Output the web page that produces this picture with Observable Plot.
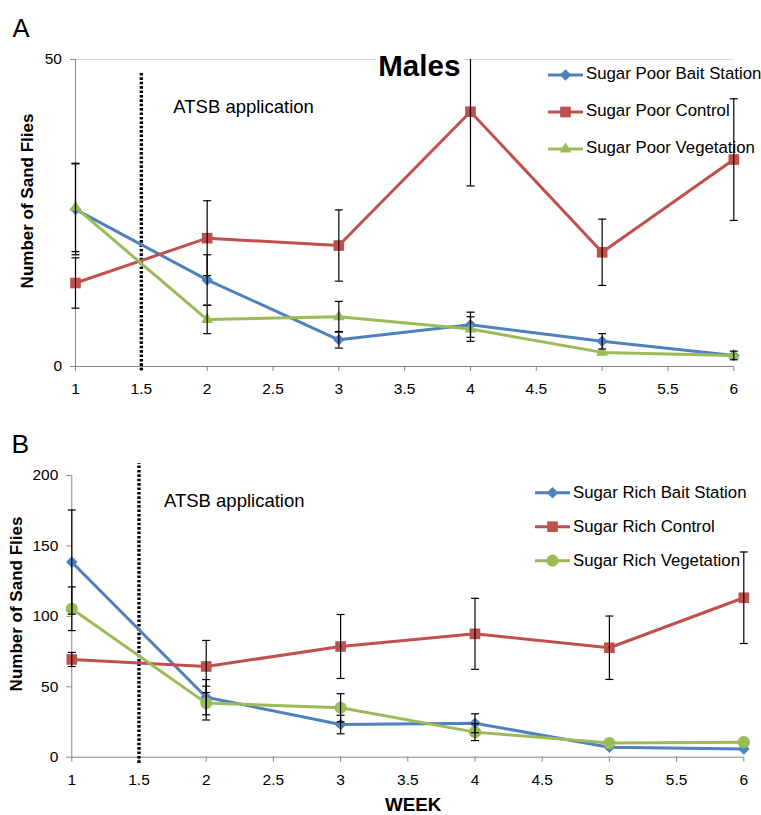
<!DOCTYPE html>
<html><head><meta charset="utf-8">
<script src="https://cdn.jsdelivr.net/npm/d3@7"></script>
<script src="https://cdn.jsdelivr.net/npm/@observablehq/plot@0.6"></script>
<style>
html,body{margin:0;padding:0;background:#fff;overflow:hidden}
#wrap{position:relative;width:761px;height:815px;font-family:"Liberation Sans",Arial,sans-serif}
#pa,#pb{position:absolute;left:0}
#overlay{position:absolute;left:0;top:0;pointer-events:none}
</style></head><body>
<div id="wrap"><div id="pa" style="top:0"></div><div id="pb" style="top:400px"></div>
<svg id="overlay" width="761" height="815" xmlns="http://www.w3.org/2000/svg"></svg></div>
<script>
// ---- data ----
const weeks = [1, 2, 3, 4, 5, 6];
const xTicks = [1, 1.5, 2, 2.5, 3, 3.5, 4, 4.5, 5, 5.5, 6];
const atsbWeek = 1.5;

// Panel A (Males, sugar poor)
const poorNames = ["Sugar Poor Bait Station", "Sugar Poor Control", "Sugar Poor Vegetation"];
const poorBait = [25.6, 14.1, 4.35, 6.8, 4.1, 1.8];
const poorBaitErr = [7.4, 4.1, 1.35, 2.05, 1.25, 0.7];
const poorControl = [13.6, 20.9, 19.7, 41.5, 18.6, 33.7];
const poorControlErr = [4.1, 6.1, 5.8, 12.1, 5.4, 9.9];
const poorVeg = [25.9, 7.65, 8.1, 6.1, 2.3, 1.8];
const poorVegErr = [7.2, 2.3, 2.5, 2.0, 0, 0];
const poorYTicks = [0, 50];
const poorAtsbExtent = [-0.7, 48.0];

// Panel B (sugar rich)
const richNames = ["Sugar Rich Bait Station", "Sugar Rich Control", "Sugar Rich Vegetation"];
const richBait = [138.5, 42.6, 23.2, 24.1, 7.1, 5.9];
const richBaitErr = [37, 12.5, 6.6, 6.7, 0, 0];
const richControl = [69.4, 64.4, 78.6, 87.6, 77.7, 113.2];
const richControlErr = [5, 18.5, 22.7, 25.2, 22.5, 32.5];
const richVeg = [105.4, 38.4, 35.1, 17.8, 10.0, 10.7];
const richVegErr = [15.5, 12, 10, 6, 0, 0];
const richYTicks = [0, 50, 100, 150, 200];
const richAtsbExtent = [-4.4, 208.6];

// ---- style ----
const colors = ["#4F81BD", "#C0504D", "#9BBB59"];
const FONT = "Liberation Sans, Arial, sans-serif";
const capSymbol = {draw(ctx) { ctx.moveTo(-4, 0); ctx.lineTo(4, 0); }};

function panel({values, errs, symbols, radii, yMax, yTicks, height, mL, mR, mT, mB, atsbExtent, grid}) {
  const rows = [];
  values.forEach((vals, k) => weeks.forEach((w, j) => rows.push({k, week: w, v: vals[j], e: errs[k][j]})));
  const errRows = rows.filter(d => d.e > 0);
  const caps = errRows.flatMap(d => [{week: d.week, y: d.v + d.e}, {week: d.week, y: d.v - d.e}])
    .filter(c => c.y <= yMax && c.y >= 0);
  const seriesMarks = values.flatMap((vals, k) => {
    const data = rows.filter(d => d.k === k);
    return [
      Plot.line(data, {x: "week", y: "v", stroke: colors[k], strokeWidth: 3}),
      Plot.dot(data, {x: "week", y: "v", symbol: symbols[k], r: radii[k], fill: colors[k], stroke: "none"})
    ];
  });
  return Plot.plot({
    width: 761, height,
    marginLeft: mL, marginRight: mR, marginTop: mT, marginBottom: mB,
    x: {domain: [1, 6]},
    y: {domain: [0, yMax]},
    style: {fontFamily: FONT, fontSize: "15.5px", background: "white", color: "black"},
    marks: [
      grid ? Plot.ruleY([yMax], {stroke: "#d9d9d9"}) : null,
      Plot.ruleX([1], {stroke: "#868686"}),
      Plot.ruleY([0], {stroke: "#868686"}),
      Plot.axisX({ticks: xTicks, tickSize: 5, tickPadding: 11.5, tickFormat: d => String(d), stroke: "#868686", label: null}),
      Plot.axisY({ticks: yTicks, tickSize: 5, tickPadding: 8.5, tickFormat: d => String(d), stroke: "#868686", label: null}),
      Plot.ruleX([{week: atsbWeek, y1: atsbExtent[0], y2: atsbExtent[1]}],
        {x: "week", y1: "y1", y2: "y2", stroke: "black", strokeWidth: 3.4, strokeDasharray: "2.6,1.8"}),
      ...seriesMarks,
      Plot.ruleX(errRows, {x: "week", y1: d => Math.max(0, d.v - d.e), y2: d => Math.min(yMax, d.v + d.e), stroke: "black", strokeWidth: 1.2}),
      Plot.dot(caps, {x: "week", y: "y", symbol: capSymbol, r: 4, stroke: "black", strokeWidth: 1.2, fill: "none"})
    ]
  });
}

document.getElementById("pa").append(panel({
  values: [poorBait, poorControl, poorVeg],
  errs: [poorBaitErr, poorControlErr, poorVegErr],
  symbols: ["diamond2", "square", "triangle"], radii: [5.2, 6, 4.4],
  yMax: 50, yTicks: poorYTicks, height: 400, mL: 75, mR: 27.7, mT: 59, mB: 34,
  atsbExtent: poorAtsbExtent, grid: true
}));
document.getElementById("pb").append(panel({
  values: [richBait, richControl, richVeg],
  errs: [richBaitErr, richControlErr, richVegErr],
  symbols: ["diamond2", "square", "circle"], radii: [5.2, 6, 6.1],
  yMax: 200, yTicks: richYTicks, height: 415, mL: 71.3, mR: 17.7, mT: 75, mB: 58.3,
  atsbExtent: richAtsbExtent, grid: false
}));

// ---- overlay text & legends ----
const ov = d3.select("#overlay").attr("font-family", FONT);
function txt(x, y, s, size, weight, extra) {
  const t = ov.append("text").attr("x", x).attr("y", y).attr("font-size", size)
    .attr("font-weight", weight || "normal").attr("fill", "black").text(s);
  if (extra) extra(t);
  return t;
}
txt(12.5, 36.7, "A", 25.6);
txt(11.5, 452.7, "B", 26.5);
ov.append("rect").attr("x", 376).attr("y", 54.5).attr("width", 88).attr("height", 26).attr("fill", "white");
txt(378.3, 76, "Males", 29.5, "bold");
txt(173.3, 113.3, "ATSB application", 18.5);
txt(164, 506.7, "ATSB application", 18.5);
txt(0, 0, "Number of Sand Flies", 17, "bold", t => t.attr("text-anchor", "middle").attr("transform", "translate(33.3,201) rotate(-90)"));
txt(0, 0, "Number of Sand Flies", 17, "bold", t => t.attr("text-anchor", "middle").attr("transform", "translate(21.7,604) rotate(-90)"));
txt(385, 810.5, "WEEK", 18.8, "bold");

const symMap = {diamond2: d3.symbolDiamond2, square: d3.symbolSquare, triangle: d3.symbolTriangle, circle: d3.symbolCircle};
function legend(names, symbols, radii, x1, x2, y0, step, textX, textDy) {
  names.forEach((n, i) => {
    const y = y0 + i * step;
    ov.append("line").attr("x1", x1).attr("x2", x2).attr("y1", y).attr("y2", y)
      .attr("stroke", colors[i]).attr("stroke-width", 3);
    ov.append("path").attr("d", d3.symbol(symMap[symbols[i]], Math.PI * radii[i] * radii[i])())
      .attr("transform", `translate(${(x1 + x2) / 2},${y})`).attr("fill", colors[i]);
    txt(textX, y + textDy, n, 16.8);
  });
}
legend(poorNames, ["diamond2", "square", "triangle"], [5.2, 6, 4.4], 548, 583, 75, 37, 586, 4.4);
legend(richNames, ["diamond2", "square", "circle"], [5.2, 6, 6.1], 535, 570, 492.7, 34, 573, 5.6);
</script>
</body></html>
